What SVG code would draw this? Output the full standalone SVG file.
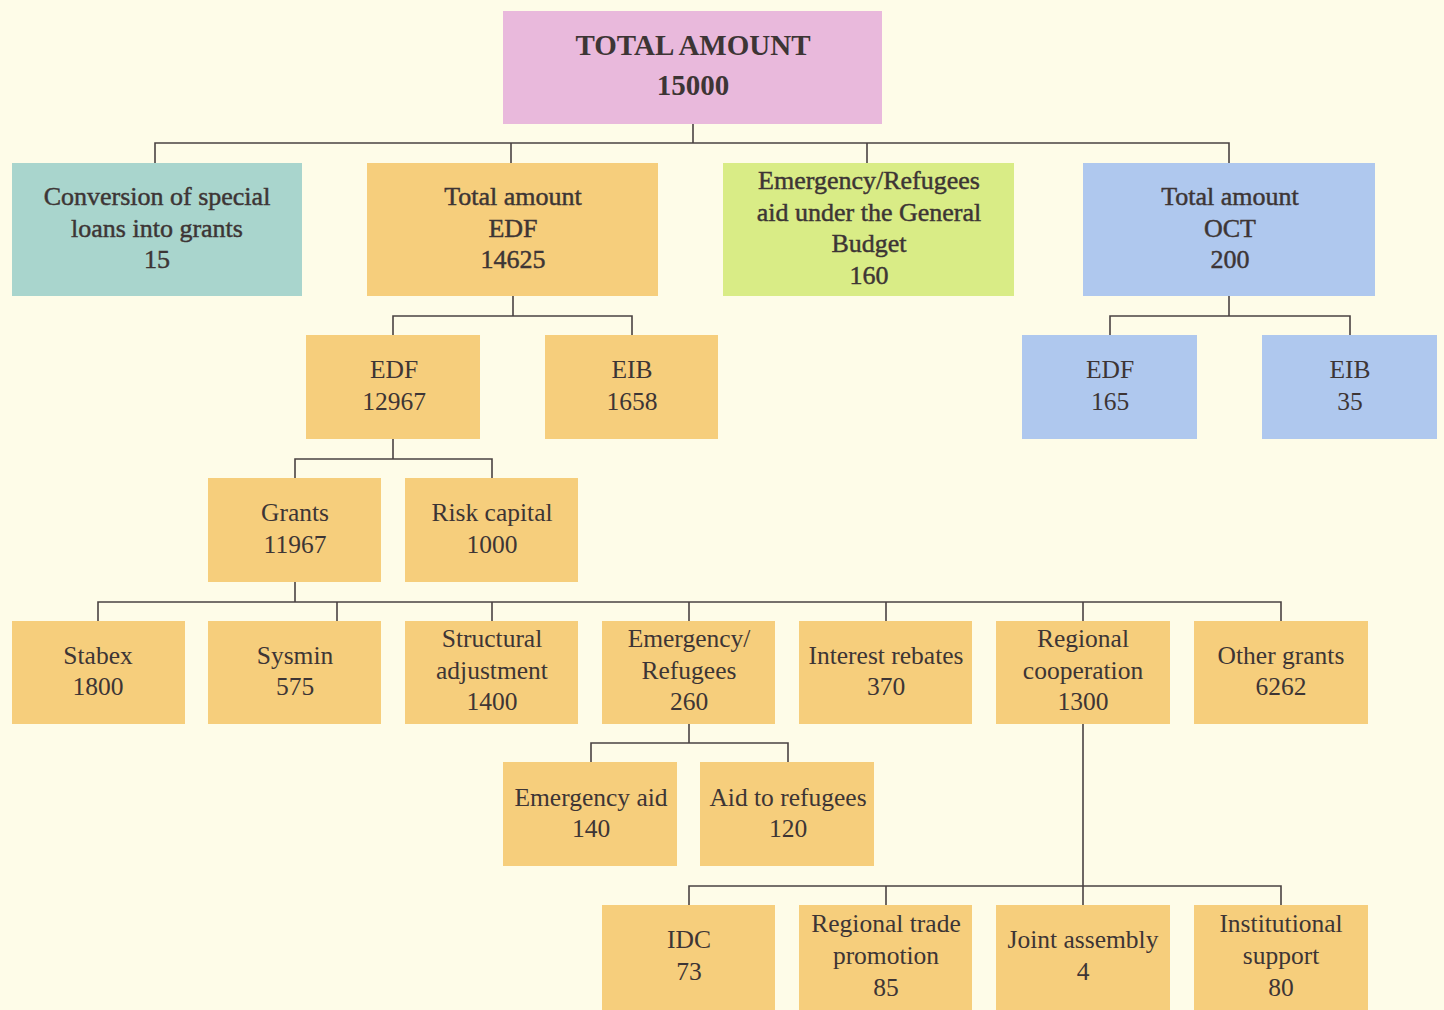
<svg xmlns="http://www.w3.org/2000/svg" width="1444" height="1010" viewBox="0 0 1444 1010">
<style>
.t{font-family:"Liberation Serif","Times New Roman",serif;font-size:25.5px;fill:#3d3535;text-anchor:middle}
.s{font-size:26px;stroke:#3d3535;stroke-width:0.45}
.h{font-size:29px;font-weight:bold}
.o{fill:#F6CE7C}
.pk{fill:#E9B9DC}
.tl{fill:#A9D5CD}
.gr{fill:#D9EC86}
.bl{fill:#AFC8EE}
.c{fill:none;stroke:#4a4242;stroke-width:1.6}
</style>
<rect width="1444" height="1010" fill="#FEFCE8"/>
<g id="connectors" class="c">
<path d="M693 124V143M155 163V143H1229V163M511 143V163M867 143V163"/>
<path d="M513 296V316M393 335V316H632V335"/>
<path d="M1229 296V316M1110 335V316H1350V335"/>
<path d="M393 439V459M295 478V459H492V478"/>
<path d="M295 582V602M98 621V602H1281V621M337 602V621M492 602V621M689 602V621M886 602V621M1083 602V621"/>
<path d="M689 724V743M591 762V743H788V762"/>
<path d="M1083 724V905M689 905V886H1281V905M886 886V905"/>
</g>
<g id="n-total"><rect class="pk" x="503" y="11" width="379" height="113"/><text class="t h" x="693" y="55">TOTAL AMOUNT</text><text class="t h" x="693" y="95">15000</text></g>
<g id="n-conv"><rect class="tl" x="12" y="163" width="290" height="133"/><text class="t s" x="157" y="205">Conversion of special</text><text class="t s" x="157" y="237">loans into grants</text><text class="t s" x="157" y="268">15</text></g>
<g id="n-edf-total"><rect class="o" x="367" y="163" width="291" height="133"/><text class="t s" x="513" y="205">Total amount</text><text class="t s" x="513" y="237">EDF</text><text class="t s" x="513" y="268">14625</text></g>
<g id="n-emerg-budget"><rect class="gr" x="723" y="163" width="291" height="133"/><text class="t s" x="869" y="189">Emergency/Refugees</text><text class="t s" x="869" y="221">aid under the General</text><text class="t s" x="869" y="252">Budget</text><text class="t s" x="869" y="284">160</text></g>
<g id="n-oct"><rect class="bl" x="1083" y="163" width="292" height="133"/><text class="t s" x="1230" y="205">Total amount</text><text class="t s" x="1230" y="237">OCT</text><text class="t s" x="1230" y="268">200</text></g>
<g id="n-edf"><rect class="o" x="306" y="335" width="174" height="104"/><text class="t" x="394" y="378">EDF</text><text class="t" x="394" y="410">12967</text></g>
<g id="n-eib"><rect class="o" x="545" y="335" width="173" height="104"/><text class="t" x="632" y="378">EIB</text><text class="t" x="632" y="410">1658</text></g>
<g id="n-oct-edf"><rect class="bl" x="1022" y="335" width="175" height="104"/><text class="t" x="1110" y="378">EDF</text><text class="t" x="1110" y="410">165</text></g>
<g id="n-oct-eib"><rect class="bl" x="1262" y="335" width="175" height="104"/><text class="t" x="1350" y="378">EIB</text><text class="t" x="1350" y="410">35</text></g>
<g id="n-grants"><rect class="o" x="208" y="478" width="173" height="104"/><text class="t" x="295" y="521">Grants</text><text class="t" x="295" y="553">11967</text></g>
<g id="n-risk"><rect class="o" x="405" y="478" width="173" height="104"/><text class="t" x="492" y="521">Risk capital</text><text class="t" x="492" y="553">1000</text></g>
<g id="n-stabex"><rect class="o" x="12" y="621" width="173" height="103"/><text class="t" x="98" y="664">Stabex</text><text class="t" x="98" y="695">1800</text></g>
<g id="n-sysmin"><rect class="o" x="208" y="621" width="173" height="103"/><text class="t" x="295" y="664">Sysmin</text><text class="t" x="295" y="695">575</text></g>
<g id="n-struct"><rect class="o" x="405" y="621" width="173" height="103"/><text class="t" x="492" y="647">Structural</text><text class="t" x="492" y="679">adjustment</text><text class="t" x="492" y="710">1400</text></g>
<g id="n-emerg"><rect class="o" x="602" y="621" width="173" height="103"/><text class="t" x="689" y="647">Emergency/</text><text class="t" x="689" y="679">Refugees</text><text class="t" x="689" y="710">260</text></g>
<g id="n-interest"><rect class="o" x="799" y="621" width="173" height="103"/><text class="t" x="886" y="664">Interest rebates</text><text class="t" x="886" y="695">370</text></g>
<g id="n-regional"><rect class="o" x="996" y="621" width="174" height="103"/><text class="t" x="1083" y="647">Regional</text><text class="t" x="1083" y="679">cooperation</text><text class="t" x="1083" y="710">1300</text></g>
<g id="n-other"><rect class="o" x="1194" y="621" width="174" height="103"/><text class="t" x="1281" y="664">Other grants</text><text class="t" x="1281" y="695">6262</text></g>
<g id="n-emerg-aid"><rect class="o" x="503" y="762" width="174" height="104"/><text class="t" x="591" y="806">Emergency aid</text><text class="t" x="591" y="837">140</text></g>
<g id="n-refugees"><rect class="o" x="700" y="762" width="174" height="104"/><text class="t" x="788" y="806">Aid to refugees</text><text class="t" x="788" y="837">120</text></g>
<g id="n-idc"><rect class="o" x="602" y="905" width="173" height="105"/><text class="t" x="689" y="948">IDC</text><text class="t" x="689" y="980">73</text></g>
<g id="n-trade"><rect class="o" x="799" y="905" width="173" height="105"/><text class="t" x="886" y="932">Regional trade</text><text class="t" x="886" y="964">promotion</text><text class="t" x="886" y="996">85</text></g>
<g id="n-joint"><rect class="o" x="996" y="905" width="174" height="105"/><text class="t" x="1083" y="948">Joint assembly</text><text class="t" x="1083" y="980">4</text></g>
<g id="n-inst"><rect class="o" x="1194" y="905" width="174" height="105"/><text class="t" x="1281" y="932">Institutional</text><text class="t" x="1281" y="964">support</text><text class="t" x="1281" y="996">80</text></g>
</svg>
